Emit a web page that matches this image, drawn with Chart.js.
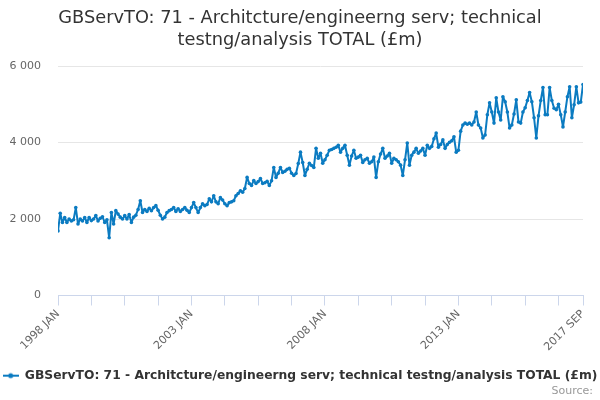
<!DOCTYPE html>
<html>
<head>
<meta charset="utf-8">
<script src="https://cdn.jsdelivr.net/npm/chart.js@4.4.0/dist/chart.umd.min.js"></script>
<style>
  html, body { margin: 0; padding: 0; background: #fff; }
  #wrap { width: 600px; height: 400px; }
</style>
</head>
<body>
<div id="wrap"><canvas id="chart" width="600" height="400"></canvas></div>
<script>
/* ── Data (monthly, £m) ── */
const START_YEAR = 1998;
const MONTHS = ['JAN','FEB','MAR','APR','MAY','JUN','JUL','AUG','SEP','OCT','NOV','DEC'];

const V1998 = [1690, 2150, 1910, 2040, 1910, 2000, 1950, 1980, 2300, 1870, 2000, 1950];
const V1999 = [2040, 1910, 2040, 1960, 2000, 2090, 1950, 2020, 2060, 1910, 1980, 1510];
const V2000 = [2170, 1870, 2220, 2130, 2050, 2000, 2090, 2000, 2120, 1910, 2050, 2100];
const V2001 = [2250, 2480, 2170, 2250, 2200, 2280, 2220, 2300, 2350, 2230, 2100, 2000];
const V2002 = [2050, 2170, 2220, 2250, 2300, 2200, 2270, 2200, 2250, 2300, 2230, 2170];
const V2003 = [2300, 2430, 2300, 2170, 2300, 2400, 2350, 2380, 2530, 2450, 2610, 2450];
const V2004 = [2400, 2560, 2500, 2400, 2350, 2430, 2450, 2480, 2610, 2670, 2740, 2700];
const V2005 = [2800, 3090, 2930, 2880, 3010, 2930, 2980, 3060, 2930, 2950, 2990, 2880];
const V2006 = [3000, 3350, 3090, 3200, 3350, 3220, 3250, 3300, 3330, 3200, 3140, 3190];
const V2007 = [3450, 3750, 3480, 3140, 3300, 3460, 3400, 3350, 3850, 3590, 3720, 3460];
const V2008 = [3550, 3670, 3800, 3820, 3850, 3880, 3930, 3750, 3850, 3930, 3670, 3410];
const V2009 = [3650, 3800, 3590, 3620, 3670, 3480, 3550, 3590, 3460, 3500, 3620, 3090];
const V2010 = [3500, 3700, 3850, 3590, 3650, 3720, 3460, 3590, 3550, 3500, 3410, 3140];
const V2011 = [3550, 3990, 3410, 3670, 3750, 3850, 3720, 3780, 3850, 3670, 3930, 3850];
const V2012 = [3900, 4100, 4250, 3880, 3950, 4070, 3850, 3950, 4010, 4050, 4150, 3750];
const V2013 = [3800, 4300, 4460, 4510, 4480, 4510, 4460, 4540, 4800, 4460, 4380, 4120];
const V2014 = [4200, 4730, 5040, 4800, 4510, 5170, 4800, 4590, 5200, 5070, 4800, 4380];
const V2015 = [4460, 4750, 5120, 4540, 4510, 4800, 4910, 5100, 5310, 5070, 4650, 4120];
const V2016 = [4700, 5100, 5440, 4730, 4730, 5440, 5100, 4900, 4860, 5000, 4730, 4410];
const V2017 = [4800, 5200, 5460, 4650, 4990, 5460, 5040, 5060, 5520];

const VALUES = [].concat(V1998, V1999, V2000, V2001, V2002, V2003, V2004, V2005, V2006,
  V2007, V2008, V2009, V2010, V2011, V2012, V2013, V2014, V2015, V2016, V2017);

/* month index of every axis tick, and the ones that carry a label */
const TICK_MONTHS = [0, 15, 30, 45, 60, 75, 90, 105, 120, 135, 150, 165, 180, 195, 210, 225, 236];
const LABEL_MONTHS = [0, 60, 120, 180, 236];

const SERIES_NAME = 'GBServTO: 71 - Architcture/engineerng serv; technical testng/analysis TOTAL (£m)';
const TITLE_LINES = ['GBServTO: 71 - Architcture/engineerng serv; technical', 'testng/analysis TOTAL (£m)'];

const LINE_COLOR = '#0b7bc1';

/* ── Helpers ── */
function monthLabel(i) {
  return (START_YEAR + Math.floor(i / 12)) + ' ' + MONTHS[i % 12];
}
function fmtSpace(v) {
  return String(v).replace(/\B(?=(\d{3})+(?!\d))/g, ' ');
}

/* legend marker: short line with a dot */
const legendMark = document.createElement('canvas');
legendMark.width = 16; legendMark.height = 8;
const lc = legendMark.getContext('2d');
lc.strokeStyle = LINE_COLOR; lc.lineWidth = 2;
lc.beginPath(); lc.moveTo(0, 4); lc.lineTo(16, 4); lc.stroke();
lc.fillStyle = LINE_COLOR;
lc.beginPath(); lc.arc(8, 4, 2.5, 0, Math.PI * 2); lc.fill();

Chart.defaults.font.family = "'DejaVu Sans', sans-serif";

new Chart(document.getElementById('chart'), {
  type: 'line',
  data: {
    datasets: [{
      label: SERIES_NAME,
      data: VALUES.map((v, i) => ({ x: i, y: v })),
      borderColor: LINE_COLOR, backgroundColor: LINE_COLOR,
      borderWidth: 2, borderJoinStyle: 'round', borderCapStyle: 'round',
      pointRadius: 1.8, pointBorderWidth: 0,
      pointBackgroundColor: LINE_COLOR, tension: 0, fill: false,
      xAxisID: 'x', yAxisID: 'y'
    }]
  },
  options: {
    responsive: false, animation: false,
    layout: { padding: 0 },
    plugins: {
      title: {
        display: true, text: TITLE_LINES, color: '#333',
        font: { size: 17.8, weight: 'normal', lineHeight: 1.24 },
        padding: { top: 7, bottom: 15 }
      },
      subtitle: {
        display: true, text: 'Source:\u00a0\u00a0', position: 'bottom', align: 'end',
        color: '#999', font: { size: 11, weight: 'normal' },
        padding: { top: -7, bottom: 2 }
      },
      legend: {
        display: true, position: 'bottom',
        labels: {
          usePointStyle: true, pointStyle: legendMark, pointStyleWidth: 16,
          color: '#333', font: { size: 12.3, weight: 'bold' }, padding: 2
        }
      },
      tooltip: { enabled: false }
    },
    scales: {
      x: {
        type: 'linear', min: 0, max: 236,
        afterBuildTicks: s => { s.ticks = TICK_MONTHS.map(v => ({ value: v })); },
        afterFit: s => { s.height = 72; },
        grid: { drawOnChartArea: false, color: '#ccd6eb', tickLength: 10 },
        border: { color: '#ccd6eb' },
        ticks: {
          autoSkip: false, minRotation: 45, maxRotation: 45, padding: 2,
          color: '#666', font: { size: 11 },
          callback: v => LABEL_MONTHS.includes(v) ? monthLabel(v) : ''
        }
      },
      y: {
        min: 0, max: 6000,
        afterFit: s => { s.width = 58; },
        grid: { color: '#e6e6e6', drawTicks: false },
        border: { display: false },
        ticks: { stepSize: 2000, padding: 17, color: '#666', font: { size: 11 }, callback: v => fmtSpace(v) }
      },
      yr: {
        position: 'right', display: true,
        afterFit: s => { s.width = 17; },
        grid: { display: false }, border: { display: false },
        ticks: { display: false }
      }
    }
  }
});
</script>
</body>
</html>
